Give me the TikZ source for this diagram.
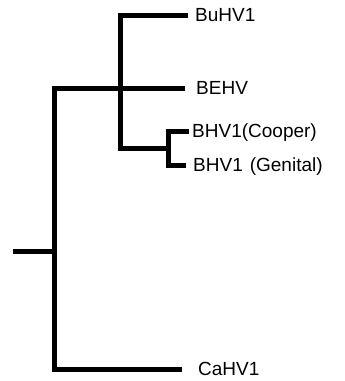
\documentclass[tikz,border=0pt]{standalone}
\usepackage{fontspec}
\setmainfont{Liberation Sans}
\begin{document}
\begin{tikzpicture}[x=1pt,y=-1pt,
  branch/.style={line width=5pt, line join=miter, line cap=butt},
  leaf/.style={anchor=west, inner ysep=0pt, inner xsep=0pt, text height=13.6pt, text depth=0pt,
    font=\fontsize{19}{22}\selectfont}]
\useasboundingbox (0,0) rectangle (345,381);
% leaves (west anchor = end of branch line; text starts after a gap)
\node[leaf] (bu) at (188,15) {\hspace{7pt}BuHV1};
\node[leaf] (be) at (185,88) {\hspace{11pt}BEHV};
\node[leaf] (co) at (189,131) {\hspace{3pt}BHV1(Cooper)};
\node[leaf] (ge) at (186,165) {\hspace{7pt}BHV1\hspace{7pt}(Genital)};
\node[leaf] (ca) at (182,369) {\hspace{16pt}CaHV1};
% internal nodes
\coordinate (r) at (13,251);
\coordinate (A) at (54,251);
\coordinate (B) at (120,88);
\coordinate (C) at (168,148);
% branches
\draw[branch] (r) -- (A);
\draw[branch] (be.west) -| (A) |- (ca.west);
\draw[branch] (bu.west) -| (B) |- (C);
\draw[branch] (co.west) -| (C) |- (ge.west);
\end{tikzpicture}
\end{document}
